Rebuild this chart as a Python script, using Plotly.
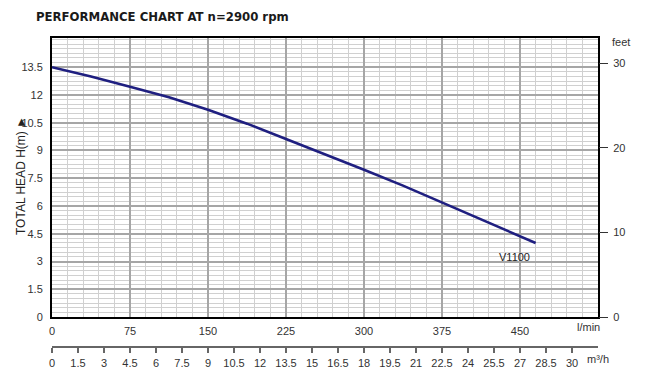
import plotly.graph_objects as go

# ---- data ----
flow_lmin = [0, 37.5, 75, 112.5, 150, 187.5, 225, 262.5, 300, 337.5, 375, 412.5, 450, 465]
head_m = [13.5, 13.0, 12.45, 11.88, 11.2, 10.45, 9.62, 8.8, 7.96, 7.1, 6.2, 5.3, 4.4, 4.0]
model_name = "V1100"
flow_ticks = [0, 75, 150, 225, 300, 375, 450]
head_ticks = [0, 1.5, 3, 4.5, 6, 7.5, 9, 10.5, 12, 13.5]
m3h_ticks = [0, 1.5, 3, 4.5, 6, 7.5, 9, 10.5, 12, 13.5, 15, 16.5, 18, 19.5, 21,
             22.5, 24, 25.5, 27, 28.5, 30]
feet_ticks = [0, 10, 20, 30]

m3h_vals = [f * 60 / 1000 for f in flow_lmin]
feet_vals = [h for h in head_m]

# page body has an 8px margin; figure is sized/offset to compensate
OFF = 8
W, H = 650 - OFF, 381 - OFF
L, R, T, B = 52 - OFF, 52, 38 - OFF, 20
PW, PH = W - L - R, H - T - B


def px_x(sx):
    return (sx - OFF - L) / PW


def px_y(sy):
    return (H - B - (sy - OFF)) / PH


font_fam = "Liberation Sans, Arial, sans-serif"
tick_font = dict(family=font_fam, size=11, color="#333333")

fig = go.Figure()
fig.add_trace(go.Scatter(x=flow_lmin, y=head_m, mode="lines",
                         line=dict(color="#1f1f80", width=2.6),
                         showlegend=False, hoverinfo="skip"))
fig.add_trace(go.Scatter(x=m3h_vals, y=head_m, xaxis="x2", yaxis="y", mode="lines",
                         line=dict(width=0), opacity=0, showlegend=False, hoverinfo="skip"))
fig.add_trace(go.Scatter(x=flow_lmin, y=feet_vals, xaxis="x", yaxis="y2", mode="lines",
                         line=dict(width=0), opacity=0, showlegend=False, hoverinfo="skip"))

fig.add_annotation(x=445, y=3.26, xref="x", yref="y", text=model_name, showarrow=False,
                   font=dict(family=font_fam, size=11, color="#222222"))

y_lo = px_y(317)
fig.update_layout(
    width=W, height=H,
    margin=dict(l=L, r=R, t=T, b=B, pad=0),
    paper_bgcolor="white", plot_bgcolor="white",
    xaxis=dict(range=[0, 525], tickmode="array", tickvals=flow_ticks,
               showgrid=True, gridcolor="#a6a6a6", gridwidth=1.5,
               minor=dict(tickmode="linear", tick0=0, dtick=15, showgrid=True,
                          gridcolor="#d0d0d0", gridwidth=1),
               showline=True, linecolor="black", linewidth=2, mirror=True,
               ticks="", tickfont=tick_font, ticklabelstandoff=3, zeroline=False,
               anchor="y"),
    yaxis=dict(range=[0, 15.08], domain=[y_lo, 1], tickmode="array", tickvals=head_ticks,
               showgrid=True, gridcolor="#a6a6a6", gridwidth=1.5,
               minor=dict(tickmode="linear", tick0=0, dtick=0.25, showgrid=True,
                          gridcolor="#d0d0d0", gridwidth=1),
               showline=True, linecolor="black", linewidth=2, mirror=True,
               ticks="", tickfont=tick_font, ticklabelstandoff=5, zeroline=False),
    xaxis2=dict(range=[0, 31.5], overlaying="x", anchor="free",
                position=px_y(347), side="bottom",
                tickmode="array", tickvals=m3h_ticks, showgrid=False, zeroline=False,
                showline=True, linecolor="#666666", linewidth=1.5,
                ticks="outside", ticklen=5, tickwidth=1.5, tickcolor="#666666",
                tickfont=tick_font, ticklabelstandoff=1),
    yaxis2=dict(range=[0, 33.0], overlaying="y", side="right", anchor="x",
                tickmode="array", tickvals=feet_ticks, showgrid=False, zeroline=False,
                showline=False, ticks="outside", ticklen=9, tickwidth=1,
                tickcolor="#333333", tickfont=tick_font, ticklabelstandoff=3),
    annotations=list(fig.layout.annotations) + [
        dict(text="PERFORMANCE CHART AT n=2900 rpm", xref="paper", yref="paper",
             x=px_x(34), y=px_y(16), xanchor="left", yanchor="middle", showarrow=False,
             font=dict(family="DejaVu Sans Condensed, Liberation Sans Narrow, sans-serif",
                       size=13, color="#1a1a1a", weight="bold")),
        dict(text="TOTAL HEAD H(m) \u25BA", xref="paper", yref="paper",
             x=px_x(21), y=px_y(176), textangle=-90, showarrow=False,
             xanchor="center", yanchor="middle",
             font=dict(family=font_fam, size=12, color="#222222")),
        dict(text="feet", xref="paper", yref="paper", x=px_x(621), y=px_y(42),
             xanchor="center", yanchor="middle", showarrow=False, font=tick_font),
        dict(text="l/min", xref="paper", yref="paper", x=px_x(588), y=px_y(327),
             xanchor="center", yanchor="middle", showarrow=False, font=tick_font),
        dict(text="m\u00B3/h", xref="paper", yref="paper", x=px_x(598), y=px_y(359),
             xanchor="center", yanchor="middle", showarrow=False, font=tick_font),
    ],
)

fig.write_html("out.html")
